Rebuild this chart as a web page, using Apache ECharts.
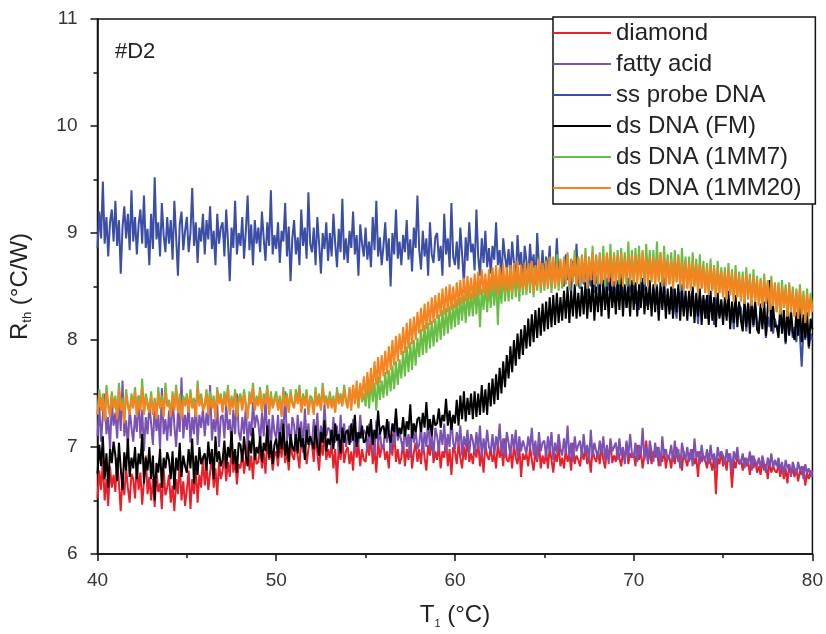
<!DOCTYPE html>
<html>
<head>
<meta charset="utf-8">
<script src="https://cdn.jsdelivr.net/npm/echarts@6/dist/echarts.min.js"></script>
<style>
  html, body { margin: 0; padding: 0; background: #fff; }
  #chart { width: 826px; height: 634px; }
</style>
</head>
<body>
<div id="chart"></div>
<script>
  // temperature sampling of the traces (°C)
  const tStart = 40
  const tStep = 0.1

  const legendNames = ['diamond', 'fatty acid', 'ss probe DNA', 'ds DNA (FM)', 'ds DNA (1MM7)', 'ds DNA (1MM20)']
  const colors = ['#e8202a', '#7a52b3', '#3b4ea6', '#000000', '#68bd45', '#f5841f']
  const xTicks = [40, 50, 60, 70, 80]
  const yTicks = [6, 7, 8, 9, 10, 11]

  // Rth (°C/W), one value every 0.1 °C from 40 to 80 (one row = 1 °C)
  const diamond = [
    6.52, 6.78, 6.6, 6.88, 6.5, 6.7, 6.45, 6.82, 6.62, 6.74,
    6.58, 6.9, 6.66, 6.4, 6.72, 6.55, 6.8, 6.62, 6.48, 6.75,
    6.7, 6.52, 6.85, 6.6, 6.76, 6.46, 6.68, 6.92, 6.56, 6.72,
    6.5, 6.7, 6.44, 6.78, 6.58, 6.66, 6.42, 6.8, 6.55, 6.62,
    6.74, 6.48, 6.64, 6.4, 6.7, 6.56, 6.86, 6.5, 6.68, 6.45,
    6.6, 6.78, 6.42, 6.7, 6.56, 6.82, 6.48, 6.74, 6.62, 6.9,
    6.64, 6.82, 6.6, 6.76, 6.92, 6.62, 6.8, 6.55, 6.86, 6.7,
    6.78, 6.92, 6.68, 6.86, 6.72, 7.0, 6.76, 6.88, 6.65, 6.84,
    6.8, 6.96, 6.75, 6.9, 7.05, 6.78, 6.92, 6.7, 6.98, 6.84,
    6.86, 7.02, 6.8, 6.95, 6.75, 7.08, 6.88, 6.98, 6.78, 6.92,
    6.96, 6.82, 7.05, 6.9, 7.1, 6.85, 6.98, 6.78, 7.04, 6.92,
    6.88, 7.06, 6.92, 6.8, 7.12, 6.95, 7.02, 6.84, 6.98, 7.08,
    7.02, 6.86, 7.1, 6.94, 6.78, 7.05, 6.92, 7.14, 6.88, 6.98,
    6.9, 7.04, 6.8, 6.98, 6.66, 7.02, 6.88, 7.08, 6.85, 6.96,
    7.0, 6.84, 6.96, 6.78, 7.1, 6.9, 7.02, 6.82, 6.98, 6.88,
    6.86, 7.04, 6.92, 7.12, 6.84, 6.98, 6.76, 7.06, 6.9, 7.0,
    7.02, 6.88, 6.96, 6.8, 7.08, 6.92, 7.15, 6.86, 6.98, 6.84,
    6.9, 7.05, 6.82, 6.98, 6.88, 7.1, 6.8, 6.95, 7.04, 6.86,
    6.98, 6.84, 7.06, 6.9, 6.78, 7.02, 6.92, 7.1, 6.85, 6.96,
    6.88, 7.02, 6.8, 6.96, 6.9, 7.08, 6.82, 6.98, 6.74, 7.0,
    6.96, 6.84, 7.04, 6.9, 6.8, 7.0, 6.88, 7.1, 6.86, 6.94,
    6.84, 7.0, 6.9, 7.06, 6.82, 6.96, 6.76, 7.02, 6.92, 6.88,
    7.0, 6.86, 6.94, 6.8, 7.04, 6.9, 6.98, 6.82, 7.08, 6.88,
    6.86, 6.98, 6.8, 7.02, 6.9, 6.84, 7.0, 6.72, 6.94, 6.88,
    6.94, 6.82, 7.0, 6.88, 6.78, 6.96, 6.86, 7.04, 6.8, 6.92,
    6.84, 6.96, 6.8, 7.0, 6.88, 6.76, 6.94, 6.86, 7.02, 6.82,
    6.9, 6.8, 6.98, 6.86, 6.94, 6.78, 7.04, 6.84, 6.92, 6.88,
    6.82, 6.96, 6.88, 7.0, 6.84, 6.92, 6.76, 6.98, 6.9, 6.86,
    6.96, 6.84, 7.02, 6.88, 6.8, 6.98, 6.9, 7.05, 6.85, 6.92,
    6.86, 7.0, 6.9, 6.82, 6.96, 6.88, 7.04, 6.84, 6.94, 6.9,
    6.94, 6.82, 7.02, 6.88, 6.96, 6.8, 6.92, 7.06, 6.86, 6.98,
    6.84, 6.96, 6.9, 7.0, 6.82, 6.94, 6.86, 6.98, 6.8, 6.92,
    6.9, 6.8, 6.96, 6.84, 7.0, 6.86, 6.92, 6.78, 6.96, 6.88,
    6.82, 6.94, 6.88, 6.98, 6.84, 6.9, 6.72, 6.96, 6.86, 6.92,
    6.88, 6.8, 6.94, 6.86, 6.78, 6.92, 6.56, 6.9, 6.84, 6.96,
    6.82, 6.9, 6.78, 6.94, 6.86, 6.62, 6.88, 6.8, 6.92, 6.84,
    6.88, 6.78, 6.9, 6.82, 6.86, 6.74, 6.92, 6.8, 6.88, 6.76,
    6.82, 6.74, 6.88, 6.78, 6.84, 6.7, 6.86, 6.76, 6.82, 6.78,
    6.76, 6.84, 6.72, 6.82, 6.7, 6.8, 6.66, 6.84, 6.74, 6.8,
    6.72, 6.8, 6.68, 6.78, 6.74, 6.82, 6.64, 6.76, 6.7, 6.78,
    6.72
  ]
  const fattyAcid = [
    7.1, 7.38, 7.05, 7.3, 7.5, 7.12, 7.28, 6.98, 7.42, 7.2,
    7.32, 7.08, 7.45, 7.15, 7.62, 7.1, 7.25, 7.0, 7.36, 7.18,
    7.05, 7.3, 7.14, 7.48, 7.08, 7.35, 6.96, 7.28, 7.12, 7.4,
    7.22, 7.02, 7.38, 7.15, 7.3, 6.98, 7.55, 7.12, 7.26, 7.06,
    7.34, 7.1, 7.46, 7.2, 7.0, 7.32, 7.14, 7.65, 7.08, 7.3,
    7.16, 7.4, 7.04, 7.28, 7.12, 7.44, 7.02, 7.3, 7.18, 7.36,
    7.1, 7.32, 7.2, 7.58, 7.06, 7.26, 7.14, 7.4, 7.0, 7.28,
    7.3, 7.08, 7.4, 7.16, 7.26, 7.02, 7.35, 7.12, 7.5, 7.14,
    7.06, 7.28, 7.12, 7.38, 7.0, 7.24, 7.1, 7.42, 7.18, 7.3,
    7.22, 7.04, 7.32, 7.1, 7.45, 7.08, 7.26, 6.98, 7.3, 7.14,
    7.08, 7.3, 7.02, 7.26, 7.12, 7.52, 7.06, 7.22, 7.0, 7.28,
    7.2, 7.0, 7.3, 7.1, 7.24, 6.96, 7.36, 7.08, 7.22, 7.04,
    7.02, 7.26, 7.08, 7.32, 6.98, 7.2, 7.06, 7.4, 7.1, 7.18,
    7.16, 6.98, 7.28, 7.04, 7.2, 6.94, 7.3, 7.06, 7.22, 7.0,
    7.0, 7.2, 7.04, 7.26, 6.96, 7.14, 7.02, 7.3, 7.08, 7.16,
    7.12, 6.96, 7.22, 7.02, 7.16, 6.92, 7.25, 7.04, 7.14, 6.98,
    7.0, 7.18, 7.04, 7.24, 6.94, 7.12, 7.02, 7.3, 7.06, 7.14,
    7.14, 6.96, 7.2, 7.0, 7.12, 6.9, 7.22, 7.04, 7.16, 6.98,
    7.02, 7.2, 6.94, 7.14, 7.0, 7.26, 6.98, 7.1, 6.92, 7.18,
    7.1, 6.96, 7.16, 7.02, 7.22, 6.94, 7.12, 7.0, 7.28, 7.04,
    6.98, 7.14, 7.02, 7.2, 6.92, 7.1, 7.0, 7.16, 6.94, 7.12,
    7.06, 6.94, 7.14, 6.98, 7.2, 6.9, 7.08, 6.96, 7.16, 7.0,
    6.96, 7.12, 6.92, 7.1, 7.0, 7.22, 6.94, 7.08, 6.9, 7.14,
    7.04, 6.92, 7.12, 6.98, 7.16, 6.9, 7.1, 6.96, 7.06, 7.0,
    6.94, 7.1, 6.98, 7.18, 6.92, 7.06, 6.88, 7.14, 6.96, 7.04,
    7.06, 6.9, 7.1, 6.96, 7.14, 6.88, 7.04, 6.94, 7.12, 6.98,
    6.92, 7.08, 6.94, 7.2, 6.9, 7.04, 6.86, 7.1, 6.96, 7.02,
    7.06, 6.9, 7.12, 6.94, 7.02, 6.86, 7.16, 6.92, 7.04, 6.96,
    6.9, 7.06, 6.94, 7.1, 6.88, 7.02, 6.84, 7.08, 6.96, 7.0,
    7.04, 6.88, 7.08, 6.92, 7.0, 6.84, 7.06, 6.9, 7.12, 6.94,
    6.9, 7.04, 6.86, 7.02, 6.92, 7.18, 6.88, 7.0, 6.84, 7.06,
    6.96, 6.86, 7.04, 6.9, 7.0, 6.82, 7.1, 6.92, 6.98, 6.88,
    6.92, 7.02, 6.86, 7.06, 6.9, 6.98, 6.8, 7.04, 6.94, 6.88,
    7.0, 6.86, 6.98, 6.82, 7.08, 6.9, 6.96, 6.84, 7.02, 6.9,
    6.86, 6.98, 6.84, 7.02, 6.88, 6.94, 6.8, 7.0, 6.9, 6.96,
    6.92, 6.84, 6.98, 6.86, 6.94, 6.78, 6.96, 6.88, 7.0, 6.84,
    6.86, 6.94, 6.8, 6.9, 6.84, 6.96, 6.78, 6.92, 6.86, 6.82,
    6.9, 6.8, 6.92, 6.84, 6.76, 6.9, 6.82, 6.94, 6.8, 6.88,
    6.82, 6.9, 6.78, 6.86, 6.74, 6.88, 6.8, 6.84, 6.72, 6.86,
    6.8, 6.74, 6.86, 6.78, 6.82, 6.7, 6.84, 6.76, 6.8, 6.72,
    6.78
  ]
  const ssProbe = [
    8.86, 9.2, 8.95, 9.48, 8.9, 9.15, 8.78, 9.1, 9.22, 8.92,
    9.3, 8.88, 9.12, 8.62, 9.05, 9.25, 8.95, 9.18, 8.84, 9.4,
    8.92, 9.15, 8.8, 9.08, 9.22, 8.9, 9.35, 8.86, 9.04, 8.7,
    9.18, 8.85, 9.52, 8.94, 9.1, 8.78, 9.28, 8.98, 8.82, 9.15,
    8.9, 9.12, 8.75, 9.3, 8.96, 8.6, 9.08, 9.2, 8.84, 9.02,
    9.15, 8.82, 9.0, 9.42, 8.88, 9.1, 8.72, 9.05, 8.92, 9.18,
    8.8, 9.12, 8.94, 9.25, 8.85, 9.02, 8.7, 9.18, 8.9, 9.05,
    9.1, 8.78, 9.22, 8.92, 8.55, 9.05, 8.86, 9.3, 8.8, 9.0,
    8.88, 9.15, 8.76, 9.02, 9.35, 8.84, 9.08, 8.7, 9.12, 8.9,
    9.05, 8.82, 9.2, 8.95, 8.74, 9.1, 8.88, 9.4, 8.8, 8.98,
    8.85, 9.1, 8.72, 9.02, 8.92, 9.28, 8.78, 9.06, 8.55, 8.95,
    9.12, 8.8, 8.96, 8.7, 9.22, 8.88, 9.05, 8.76, 9.38, 8.9,
    8.82, 9.05, 8.7, 9.15, 8.9, 8.62, 9.0, 8.85, 9.1, 8.74,
    9.0, 8.78, 9.18, 8.9, 8.68, 9.04, 8.82, 9.32, 8.75, 8.95,
    8.72, 9.02, 8.86, 9.2, 8.8, 8.98, 8.6, 9.08, 8.9, 8.78,
    9.05, 8.75, 8.92, 8.68, 9.15, 8.84, 9.3, 8.78, 8.96, 8.7,
    8.88, 9.1, 8.74, 8.95, 8.5, 9.0, 8.8, 9.22, 8.76, 8.92,
    8.7, 8.98, 8.82, 9.12, 8.75, 8.94, 8.64, 9.05, 8.86, 9.35,
    8.84, 8.66, 9.02, 8.78, 8.95, 8.6, 9.1, 8.8, 8.72, 8.96,
    9.0, 8.74, 8.88, 8.6, 9.18, 8.8, 8.95, 8.68, 9.28, 8.78,
    8.7, 8.92, 8.66, 9.05, 8.8, 8.52, 8.96, 8.74, 9.1, 8.82,
    8.9, 8.65, 9.22, 8.78, 8.6, 8.95, 8.72, 9.02, 8.68, 8.86,
    8.62, 8.88, 8.75, 9.1, 8.7, 8.84, 8.55, 8.95, 8.78, 8.66,
    8.85, 8.6, 8.92, 8.72, 8.56, 8.98, 8.7, 8.82, 8.5, 8.88,
    8.74, 8.58, 8.9, 8.66, 8.8, 8.52, 9.0, 8.7, 8.6, 8.84,
    8.55, 8.78, 8.62, 8.88, 8.5, 8.72, 8.6, 8.95, 8.58, 8.7,
    8.7, 8.5, 8.8, 8.56, 8.66, 8.45, 8.74, 8.6, 8.9, 8.52,
    8.48, 8.68, 8.52, 8.75, 8.4, 8.62, 8.5, 8.7, 8.44, 8.6,
    8.6, 8.42, 8.66, 8.48, 8.35, 8.58, 8.46, 8.72, 8.4, 8.55,
    8.38, 8.56, 8.42, 8.62, 8.36, 8.5, 8.3, 8.58, 8.44, 8.52,
    8.5, 8.34, 8.46, 8.28, 8.55, 8.4, 8.6, 8.32, 8.44, 8.36,
    8.3, 8.48, 8.36, 8.52, 8.25, 8.44, 8.34, 8.58, 8.3, 8.42,
    8.42, 8.28, 8.5, 8.32, 8.2, 8.45, 8.36, 8.52, 8.26, 8.4,
    8.26, 8.44, 8.3, 8.48, 8.22, 8.38, 8.15, 8.42, 8.34, 8.28,
    8.38, 8.2, 8.42, 8.26, 8.34, 8.14, 8.45, 8.28, 8.22, 8.36,
    8.2, 8.35, 8.22, 8.4, 8.16, 8.3, 8.1, 8.36, 8.24, 8.32,
    8.3, 8.14, 8.28, 8.08, 8.35, 8.2, 8.26, 8.12, 8.32, 8.18,
    8.1, 8.26, 8.15, 8.3, 8.02, 8.22, 8.12, 8.28, 8.06, 8.2,
    8.2, 8.05, 8.24, 8.1, 8.16, 7.96, 8.22, 8.08, 8.15, 8.02,
    8.12, 7.98, 8.2, 8.04, 7.75, 8.1, 8.0, 8.16, 7.92, 8.06,
    8.0
  ]
  const dsFM = [
    6.75, 7.02, 6.82, 7.1, 6.7, 6.94, 6.62, 6.98, 6.85, 7.05,
    6.92, 6.68, 7.04, 6.8, 6.6, 6.95, 6.78, 7.08, 6.72, 6.9,
    6.8, 7.0, 6.7, 6.94, 6.84, 7.12, 6.66, 6.9, 6.78, 7.0,
    6.7, 6.92, 6.5, 6.85, 6.76, 6.98, 6.62, 6.9, 6.8, 6.95,
    6.88, 6.7, 6.96, 6.6, 6.9, 6.78, 7.04, 6.72, 6.92, 6.82,
    6.76, 6.98, 6.8, 7.08, 6.66, 6.92, 6.74, 7.0, 6.84, 6.9,
    6.94, 6.78, 7.05, 6.84, 6.98, 6.7, 7.1, 6.86, 6.96, 6.82,
    6.88, 7.06, 6.8, 7.0, 6.9, 7.15, 6.84, 6.98, 6.76, 7.04,
    7.02, 6.86, 7.1, 6.92, 6.82, 7.06, 6.94, 7.18, 6.88, 7.0,
    6.94, 7.1, 6.86, 7.04, 6.96, 7.2, 6.9, 7.06, 6.84, 7.02,
    7.08, 6.9, 7.14, 6.98, 7.22, 6.92, 7.06, 6.86, 7.12, 7.0,
    6.96, 7.12, 6.94, 7.18, 7.0, 7.08, 6.88, 7.16, 7.02, 7.1,
    7.1, 6.98, 7.2, 7.02, 6.92, 7.14, 7.04, 7.25, 6.96, 7.08,
    7.02, 7.16, 6.98, 7.22, 7.06, 7.12, 6.94, 7.18, 7.04, 7.14,
    7.16, 7.02, 7.22, 7.06, 7.3, 7.0, 7.14, 7.08, 7.2, 7.04,
    7.06, 7.2, 7.1, 7.26, 7.02, 7.16, 7.08, 7.34, 7.12, 7.18,
    7.2, 7.08, 7.26, 7.12, 7.04, 7.22, 7.14, 7.36, 7.1, 7.18,
    7.12, 7.28, 7.1, 7.24, 7.16, 7.4, 7.08, 7.22, 7.14, 7.26,
    7.28, 7.14, 7.32, 7.18, 7.42, 7.16, 7.26, 7.1, 7.3, 7.2,
    7.22, 7.36, 7.18, 7.3, 7.24, 7.45, 7.2, 7.34, 7.16, 7.3,
    7.22, 7.44, 7.2, 7.48, 7.26, 7.52, 7.24, 7.46, 7.3, 7.5,
    7.26, 7.52, 7.28, 7.5, 7.3, 7.58, 7.32, 7.54, 7.3, 7.6,
    7.38, 7.64, 7.4, 7.68, 7.44, 7.74, 7.5, 7.8, 7.56, 7.86,
    7.64, 7.94, 7.7, 8.0, 7.76, 8.06, 7.82, 8.1, 7.86, 8.14,
    7.92, 8.2, 7.94, 8.24, 7.98, 8.28, 8.02, 8.3, 8.04, 8.34,
    8.08, 8.36, 8.1, 8.4, 8.12, 8.42, 8.14, 8.44, 8.16, 8.4,
    8.18, 8.46, 8.2, 8.5, 8.16, 8.46, 8.22, 8.52, 8.2, 8.44,
    8.22, 8.5, 8.24, 8.54, 8.2, 8.48, 8.26, 8.56, 8.18, 8.5,
    8.26, 8.52, 8.22, 8.56, 8.28, 8.5, 8.2, 8.58, 8.3, 8.5,
    8.24, 8.54, 8.28, 8.58, 8.22, 8.52, 8.3, 8.5, 8.22, 8.56,
    8.28, 8.54, 8.22, 8.52, 8.3, 8.58, 8.24, 8.5, 8.28, 8.56,
    8.22, 8.52, 8.26, 8.5, 8.18, 8.54, 8.28, 8.5, 8.2, 8.48,
    8.24, 8.5, 8.2, 8.48, 8.26, 8.52, 8.18, 8.46, 8.22, 8.46,
    8.18, 8.46, 8.22, 8.5, 8.16, 8.44, 8.22, 8.48, 8.14, 8.42,
    8.2, 8.42, 8.14, 8.46, 8.18, 8.4, 8.12, 8.44, 8.2, 8.38,
    8.14, 8.4, 8.18, 8.46, 8.1, 8.36, 8.16, 8.42, 8.12, 8.36,
    8.18, 8.08, 8.38, 8.12, 8.34, 8.06, 8.4, 8.14, 8.36, 8.1,
    8.06, 8.34, 8.1, 8.36, 8.04, 8.3, 8.56, 8.08, 8.32, 8.12,
    8.14, 8.02, 8.32, 8.06, 8.28, 7.98, 8.3, 8.04, 8.28, 8.08,
    8.0, 8.26, 8.04, 8.3, 7.98, 8.24, 8.02, 8.26, 7.94, 8.2,
    8.1
  ]
  const ds1MM7 = [
    7.3, 7.54, 7.36, 7.5, 7.26, 7.58, 7.4, 7.3, 7.52, 7.38,
    7.48, 7.28, 7.6, 7.36, 7.46, 7.24, 7.54, 7.4, 7.32, 7.5,
    7.38, 7.56, 7.3, 7.48, 7.36, 7.64, 7.32, 7.5, 7.42, 7.34,
    7.52, 7.32, 7.46, 7.28, 7.56, 7.38, 7.48, 7.3, 7.6, 7.4,
    7.44, 7.3, 7.52, 7.36, 7.58, 7.34, 7.5, 7.28, 7.48, 7.4,
    7.5, 7.34, 7.54, 7.38, 7.46, 7.3, 7.62, 7.4, 7.5, 7.36,
    7.4, 7.54, 7.32, 7.52, 7.38, 7.48, 7.28, 7.56, 7.42, 7.5,
    7.34, 7.52, 7.4, 7.58, 7.32, 7.48, 7.38, 7.54, 7.3, 7.46,
    7.5, 7.36, 7.54, 7.4, 7.28, 7.52, 7.42, 7.6, 7.36, 7.48,
    7.4, 7.56, 7.34, 7.5, 7.42, 7.58, 7.32, 7.52, 7.38, 7.46,
    7.52, 7.36, 7.48, 7.3, 7.56, 7.4, 7.5, 7.34, 7.54, 7.42,
    7.38, 7.54, 7.42, 7.58, 7.34, 7.5, 7.4, 7.54, 7.32, 7.48,
    7.46, 7.32, 7.56, 7.4, 7.5, 7.36, 7.6, 7.42, 7.48, 7.38,
    7.52, 7.38, 7.48, 7.34, 7.56, 7.42, 7.5, 7.4, 7.58, 7.44,
    7.4, 7.54, 7.38, 7.56, 7.44, 7.52, 7.36, 7.58, 7.42, 7.5,
    7.38, 7.62, 7.36, 7.64, 7.42, 7.6, 7.34, 7.66, 7.44, 7.62,
    7.46, 7.7, 7.48, 7.72, 7.52, 7.76, 7.54, 7.8, 7.58, 7.82,
    7.64, 7.9, 7.66, 7.94, 7.7, 7.98, 7.72, 8.0, 7.76, 8.02,
    7.84, 8.1, 7.86, 8.14, 7.88, 8.16, 7.92, 8.18, 7.94, 8.2,
    7.98, 8.24, 8.0, 8.28, 8.04, 8.3, 8.06, 8.32, 8.1, 8.34,
    8.12, 8.38, 8.14, 8.4, 8.18, 8.42, 8.16, 8.46, 8.22, 8.44,
    8.22, 8.5, 8.24, 8.52, 8.12, 8.48, 8.28, 8.54, 8.26, 8.52,
    8.3, 8.58, 8.32, 8.6, 8.14, 8.56, 8.34, 8.62, 8.36, 8.6,
    8.36, 8.64, 8.38, 8.66, 8.4, 8.64, 8.36, 8.68, 8.42, 8.66,
    8.42, 8.7, 8.44, 8.72, 8.4, 8.68, 8.46, 8.74, 8.44, 8.7,
    8.46, 8.74, 8.48, 8.78, 8.44, 8.72, 8.5, 8.8, 8.46, 8.74,
    8.48, 8.78, 8.52, 8.82, 8.46, 8.76, 8.54, 8.84, 8.5, 8.78,
    8.5, 8.8, 8.54, 8.86, 8.48, 8.78, 8.56, 8.88, 8.52, 8.8,
    8.52, 8.82, 8.54, 8.88, 8.5, 8.8, 8.58, 8.9, 8.52, 8.82,
    8.54, 8.84, 8.52, 8.86, 8.56, 8.82, 8.5, 8.92, 8.54, 8.84,
    8.52, 8.86, 8.56, 8.88, 8.54, 8.82, 8.52, 8.9, 8.58, 8.84,
    8.54, 8.84, 8.52, 8.92, 8.56, 8.82, 8.5, 8.88, 8.54, 8.8,
    8.52, 8.82, 8.5, 8.84, 8.54, 8.8, 8.48, 8.86, 8.52, 8.78,
    8.48, 8.78, 8.46, 8.82, 8.5, 8.76, 8.44, 8.8, 8.48, 8.74,
    8.44, 8.72, 8.42, 8.76, 8.46, 8.7, 8.4, 8.74, 8.44, 8.68,
    8.4, 8.68, 8.38, 8.72, 8.42, 8.66, 8.36, 8.7, 8.4, 8.64,
    8.36, 8.64, 8.34, 8.68, 8.38, 8.62, 8.32, 8.66, 8.36, 8.6,
    8.32, 8.58, 8.3, 8.62, 8.34, 8.56, 8.28, 8.6, 8.32, 8.54,
    8.26, 8.54, 8.24, 8.56, 8.3, 8.52, 8.22, 8.54, 8.26, 8.5,
    8.22, 8.48, 8.2, 8.52, 8.24, 8.46, 8.18, 8.48, 8.22, 8.44,
    8.3
  ]
  const ds1MM20 = [
    7.3, 7.5, 7.34, 7.46, 7.24, 7.52, 7.38, 7.28, 7.48, 7.36,
    7.44, 7.26, 7.54, 7.34, 7.42, 7.22, 7.5, 7.38, 7.3, 7.46,
    7.36, 7.52, 7.28, 7.44, 7.34, 7.56, 7.3, 7.46, 7.38, 7.32,
    7.48, 7.3, 7.42, 7.26, 7.5, 7.36, 7.44, 7.28, 7.52, 7.38,
    7.4, 7.28, 7.48, 7.34, 7.54, 7.32, 7.46, 7.26, 7.44, 7.38,
    7.46, 7.32, 7.5, 7.36, 7.42, 7.28, 7.56, 7.38, 7.46, 7.34,
    7.38, 7.5, 7.3, 7.48, 7.36, 7.44, 7.26, 7.52, 7.4, 7.46,
    7.32, 7.48, 7.38, 7.54, 7.3, 7.44, 7.36, 7.5, 7.28, 7.42,
    7.46, 7.34, 7.5, 7.38, 7.26, 7.48, 7.4, 7.56, 7.34, 7.44,
    7.38, 7.52, 7.32, 7.46, 7.4, 7.54, 7.3, 7.48, 7.36, 7.42,
    7.48, 7.34, 7.44, 7.28, 7.52, 7.38, 7.46, 7.32, 7.5, 7.4,
    7.36, 7.5, 7.4, 7.54, 7.32, 7.46, 7.38, 7.5, 7.3, 7.44,
    7.42, 7.3, 7.52, 7.38, 7.46, 7.34, 7.56, 7.4, 7.44, 7.36,
    7.48, 7.36, 7.44, 7.32, 7.52, 7.4, 7.46, 7.38, 7.54, 7.42,
    7.36, 7.56, 7.34, 7.58, 7.4, 7.62, 7.38, 7.6, 7.44, 7.66,
    7.46, 7.7, 7.5, 7.74, 7.52, 7.8, 7.58, 7.84, 7.6, 7.86,
    7.66, 7.9, 7.68, 7.94, 7.72, 8.0, 7.76, 8.04, 7.8, 8.06,
    7.86, 8.12, 7.88, 8.16, 7.92, 8.2, 7.96, 8.22, 8.0, 8.26,
    8.06, 8.3, 8.08, 8.34, 8.1, 8.36, 8.14, 8.4, 8.16, 8.42,
    8.2, 8.44, 8.22, 8.48, 8.24, 8.5, 8.26, 8.52, 8.28, 8.5,
    8.3, 8.54, 8.32, 8.56, 8.34, 8.58, 8.36, 8.6, 8.38, 8.58,
    8.38, 8.62, 8.4, 8.64, 8.42, 8.66, 8.44, 8.62, 8.4, 8.66,
    8.44, 8.68, 8.46, 8.7, 8.42, 8.68, 8.48, 8.72, 8.44, 8.68,
    8.46, 8.7, 8.44, 8.72, 8.5, 8.74, 8.46, 8.7, 8.48, 8.72,
    8.46, 8.72, 8.5, 8.74, 8.44, 8.7, 8.5, 8.76, 8.48, 8.72,
    8.5, 8.74, 8.48, 8.76, 8.52, 8.78, 8.48, 8.72, 8.52, 8.76,
    8.5, 8.76, 8.54, 8.8, 8.5, 8.74, 8.54, 8.78, 8.52, 8.76,
    8.52, 8.78, 8.54, 8.8, 8.5, 8.76, 8.56, 8.82, 8.52, 8.78,
    8.54, 8.8, 8.52, 8.78, 8.56, 8.82, 8.54, 8.78, 8.5, 8.8,
    8.52, 8.78, 8.56, 8.82, 8.5, 8.76, 8.58, 8.8, 8.52, 8.78,
    8.54, 8.8, 8.52, 8.78, 8.56, 8.84, 8.54, 8.78, 8.5, 8.76,
    8.56, 8.78, 8.5, 8.76, 8.54, 8.82, 8.52, 8.78, 8.5, 8.74,
    8.52, 8.76, 8.48, 8.74, 8.54, 8.78, 8.5, 8.72, 8.46, 8.74,
    8.48, 8.72, 8.46, 8.74, 8.5, 8.7, 8.44, 8.72, 8.48, 8.68,
    8.44, 8.68, 8.42, 8.7, 8.46, 8.66, 8.4, 8.68, 8.44, 8.64,
    8.4, 8.64, 8.38, 8.66, 8.42, 8.62, 8.36, 8.64, 8.4, 8.6,
    8.36, 8.6, 8.34, 8.62, 8.38, 8.58, 8.32, 8.6, 8.36, 8.56,
    8.32, 8.56, 8.3, 8.58, 8.34, 8.54, 8.28, 8.56, 8.32, 8.52,
    8.26, 8.52, 8.24, 8.5, 8.3, 8.48, 8.22, 8.52, 8.26, 8.46,
    8.22, 8.46, 8.2, 8.48, 8.24, 8.42, 8.16, 8.44, 8.22, 8.4,
    8.26
  ]

  const allSeries = [diamond, fattyAcid, ssProbe, dsFM, ds1MM7, ds1MM20]
  const font = 'Liberation Sans, Arial, sans-serif'

  function toPairs(arr) {
    return arr.map((v, i) => [+(tStart + i * tStep).toFixed(1), v])
  }

  const chart = echarts.init(document.getElementById('chart'))
  chart.setOption({
    backgroundColor: '#fff',
    animation: false,
    title: {
      text: '#D2',
      left: 110,
      top: 36,
      textStyle: { fontFamily: font, fontSize: 22, fontWeight: 'normal', color: '#222' }
    },
    grid: {
      left: 95, right: 12, top: 19, bottom: 77,
      show: true, borderColor: '#111', borderWidth: 1.5
    },
    legend: {
      data: legendNames,
      orient: 'vertical',
      left: 553,
      top: 17,
      padding: [3, 14, 3, 0],
      itemGap: 5,
      itemWidth: 58,
      itemHeight: 2,
      icon: 'rect',
      backgroundColor: '#fff',
      borderColor: '#111',
      borderWidth: 1.5,
      textStyle: { fontFamily: font, fontSize: 24, color: '#222', lineHeight: 26 }
    },
    xAxis: {
      type: 'value',
      min: xTicks[0],
      max: xTicks[xTicks.length - 1],
      interval: 10,
      name: '{n|T}{s|1}{n| (°C)}',
      nameLocation: 'middle',
      nameGap: 48,
      nameTextStyle: {
        rich: {
          n: { fontFamily: font, fontSize: 24, color: '#222' },
          s: { fontFamily: font, fontSize: 11, color: '#222', padding: [16, 0, 0, 0] }
        }
      },
      axisLine: { lineStyle: { color: '#111', width: 1.5 } },
      axisTick: { length: 7, lineStyle: { color: '#111', width: 1.5 } },
      minorTick: { show: true, splitNumber: 2, length: 4, lineStyle: { color: '#111', width: 1.5 } },
      axisLabel: { fontFamily: font, fontSize: 19, color: '#333', margin: 17 },
      splitLine: { show: false }
    },
    yAxis: {
      type: 'value',
      min: yTicks[0],
      max: yTicks[yTicks.length - 1],
      interval: 1,
      name: '{n|R}{s|th}{n| (°C/W)}',
      nameLocation: 'middle',
      nameGap: 64,
      nameTextStyle: {
        rich: {
          n: { fontFamily: font, fontSize: 24, color: '#222' },
          s: { fontFamily: font, fontSize: 13, color: '#222', padding: [14, 0, 0, 0] }
        }
      },
      axisLine: { show: true, lineStyle: { color: '#111', width: 1.5 } },
      axisTick: { show: true, length: 7, lineStyle: { color: '#111', width: 1.5 } },
      minorTick: { show: true, splitNumber: 2, length: 4, lineStyle: { color: '#111', width: 1.5 } },
      axisLabel: { fontFamily: font, fontSize: 19, color: '#333', margin: 20 },
      splitLine: { show: false }
    },
    series: allSeries.map((arr, k) => ({
      name: legendNames[k],
      type: 'line',
      data: toPairs(arr),
      showSymbol: false,
      symbol: 'none',
      color: colors[k],
      lineStyle: { color: colors[k], width: 2 },
      z: 2 + k
    }))
  })
</script>
</body>
</html>
